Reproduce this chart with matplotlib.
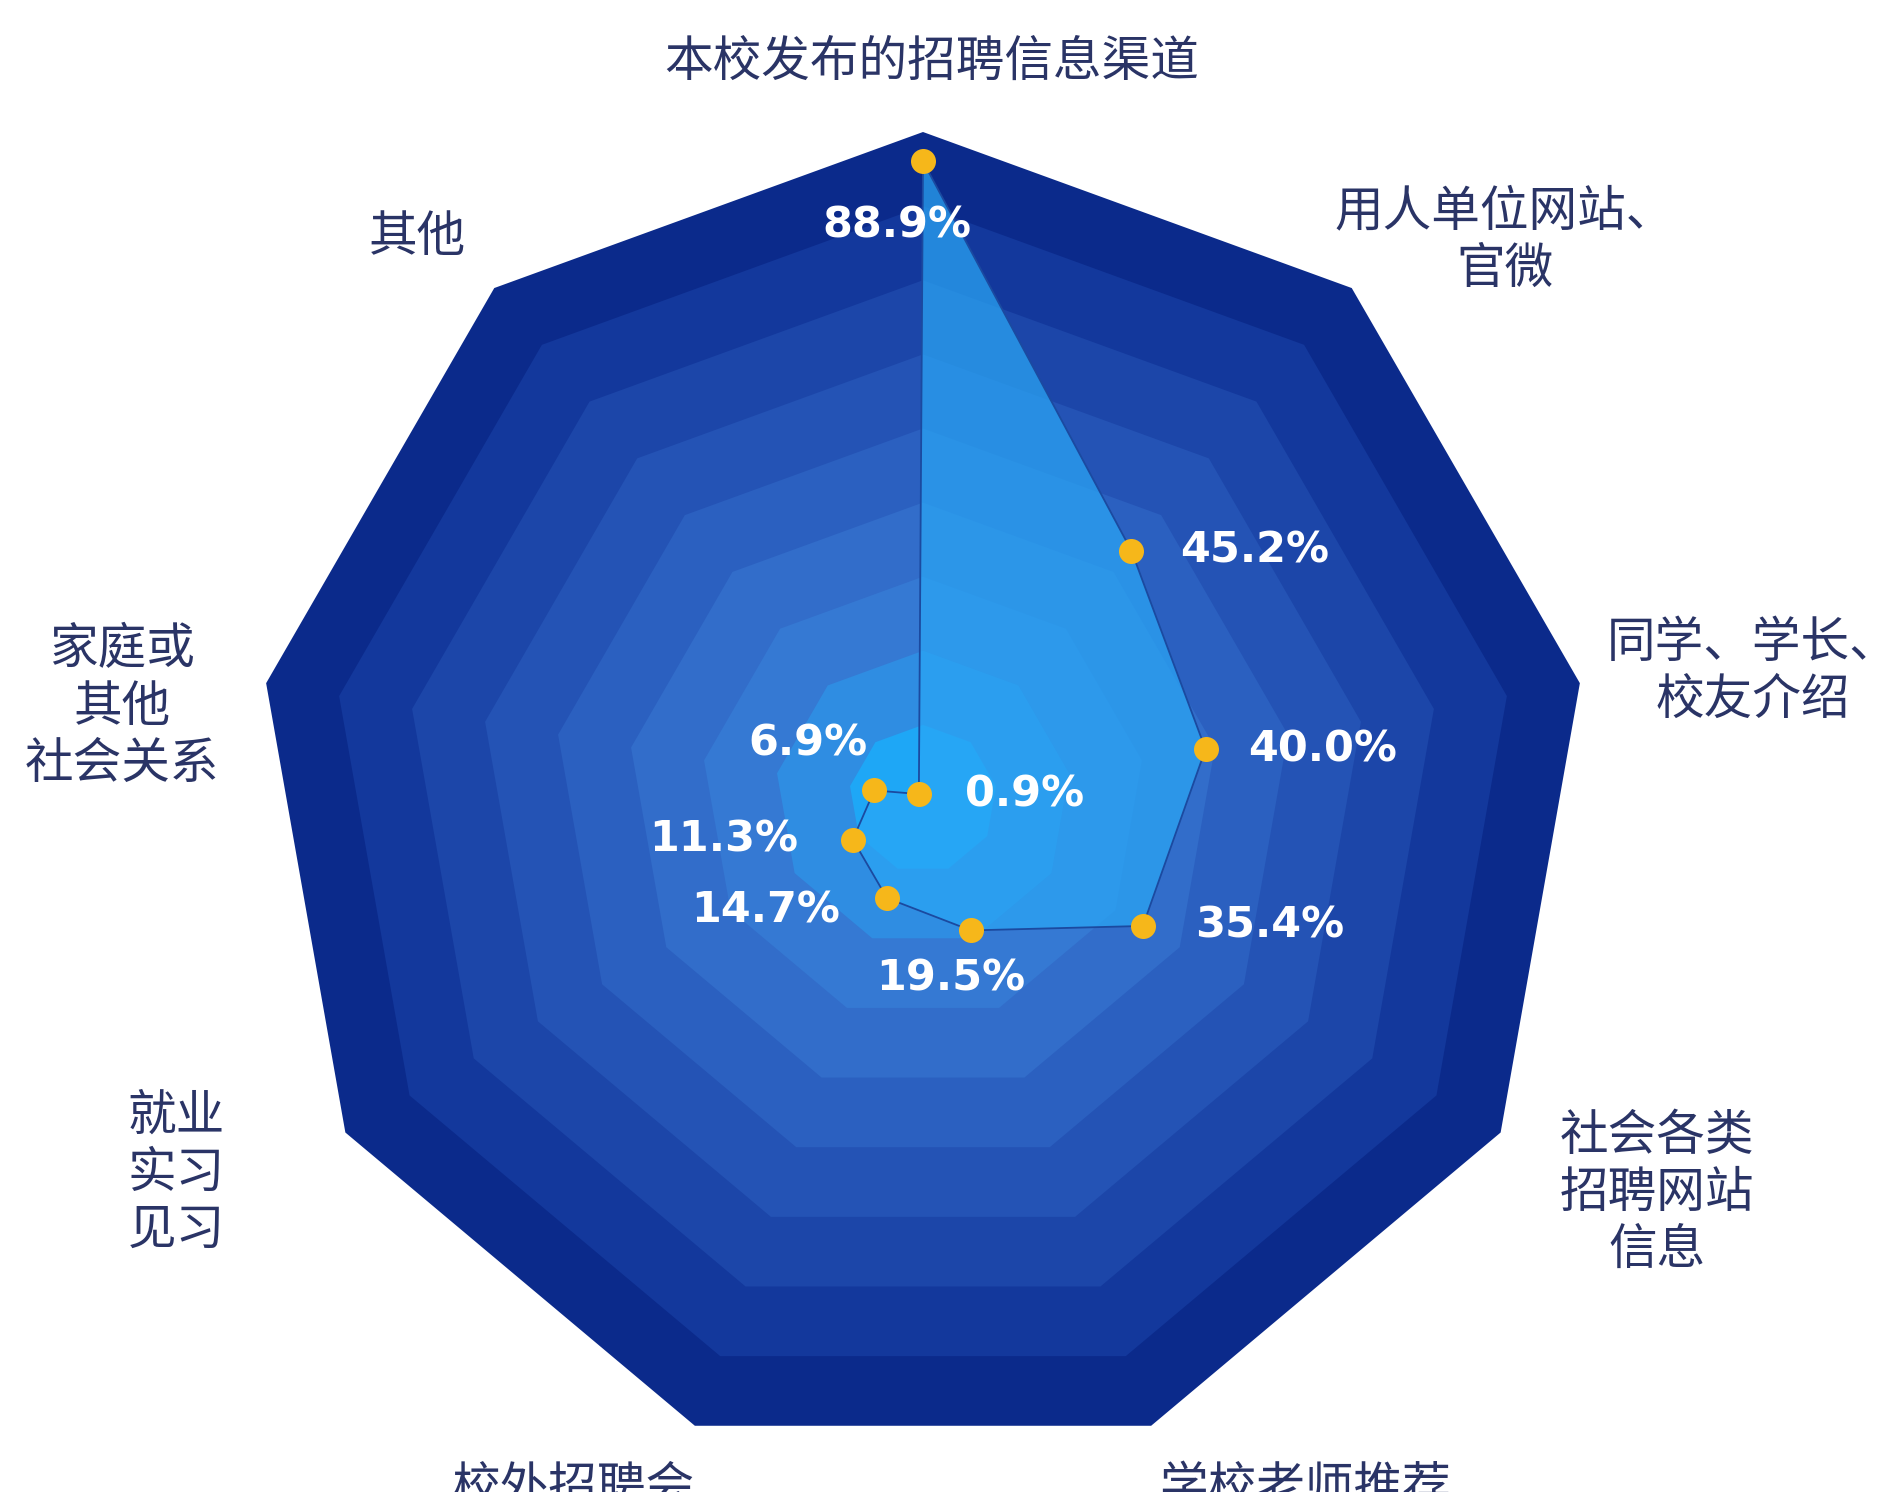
import matplotlib.pyplot as plt
import numpy as np

plt.rcParams["font.family"] = ["Noto Sans CJK SC", "DejaVu Sans"]

# clockwise from the top axis
CATEGORIES = [
    "本校发布的招聘信息渠道",
    "用人单位网站、\n官微",
    "同学、学长、\n校友介绍",
    "社会各类\n招聘网站\n信息",
    "学校老师推荐",
    "校外招聘会",
    "就业\n实习\n见习",
    "家庭或\n其他\n社会关系",
    "其他",
]
VALUES = [88.9, 45.2, 40.0, 35.4, 19.5, 14.7, 11.3, 6.9, 0.9]
VALUE_LABELS = ["88.9%", "45.2%", "40.0%", "35.4%", "19.5%", "14.7%", "11.3%", "6.9%", "0.9%"]

RMAX = 93

W, H = 1880, 1492

# outer -> inner background rings
RING_COLORS = ["#0b2a8b", "#13389c", "#1c46a9", "#2453b5", "#2b60c0",
               "#326dca", "#3579d3", "#2f8de2", "#1ea7f6"]

# category label centres in pixels (x, y from top)
CAT_POS = [(932, 62), (1505, 240), (1753, 672), (1657, 1193), (1305, 1463),
           (573, 1463), (176, 1173), (122, 707), (417, 237)]

# value label offsets from the dot, in pixels, and alignment
VAL_OFF = [(-26, -64, "center"), (49, 0, "left"), (43, 0, "left"), (52, 0, "left"),
           (-20, -48, "center"), (-47, -12, "right"), (-55, 0, "right"),
           (-66, 47, "center"), (46, 0, "left")]

TEXT_COLOR = "#2a3466"
DOT_COLOR = "#f6b71a"


def main():
    fig = plt.figure(figsize=(W / 100, H / 100), dpi=100)
    fig.patch.set_facecolor("white")
    cx, cy, R = 923, 799, 667
    ax = fig.add_axes([(cx - R) / W, (H - cy - R) / H, 2 * R / W, 2 * R / H],
                      projection="polar")
    ax.set_theta_zero_location("N")
    ax.set_theta_direction(-1)
    ax.set_ylim(0, RMAX)
    ax.axis("off")

    n = len(CATEGORIES)
    angles = np.linspace(0, 2 * np.pi, n, endpoint=False)
    closed = np.append(angles, angles[0])

    # concentric nonagon bands
    nr = len(RING_COLORS)
    for i, col in enumerate(RING_COLORS):
        r = RMAX * (nr - i) / nr
        ax.fill(closed, [r] * (n + 1), color=col, lw=0, zorder=1, clip_on=False)

    vals = np.append(VALUES, VALUES[0])
    ax.fill(closed, vals, color="#2aa6f5", alpha=0.72, lw=0, zorder=2)
    ax.plot(closed, vals, color="#1b4aa0", lw=1.3, zorder=3)
    ax.plot(angles, VALUES, "o", color=DOT_COLOR, ms=18, mec="none", zorder=4)

    for a, v, lab, (dx, dy, ha) in zip(angles, VALUES, VALUE_LABELS, VAL_OFF):
        ax.annotate(lab, xy=(a, v), xytext=(dx, dy), textcoords="offset pixels",
                    ha=ha, va="center", color="white", fontsize=31,
                    fontweight="bold", family="DejaVu Sans", zorder=5)

    for i, (lab, (x, y)) in enumerate(zip(CATEGORIES, CAT_POS)):
        va = "top" if i in (4, 5) else "center"
        fig.text(x / W, 1 - y / H, lab, ha="center", va=va, ma="center",
                 fontsize=35, color=TEXT_COLOR, linespacing=1.2)

    fig.savefig("out.png", dpi=100, facecolor="white")


if __name__ == "__main__":
    main()
